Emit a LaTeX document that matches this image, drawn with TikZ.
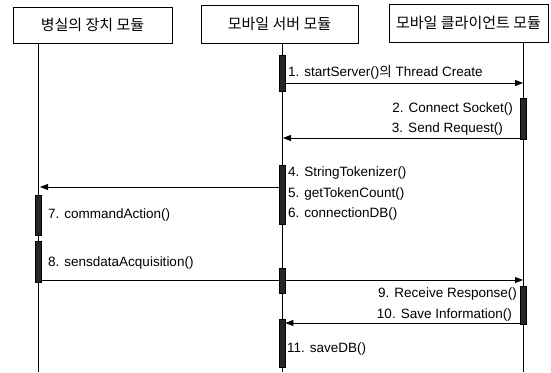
\documentclass[tikz,border=0pt]{standalone}
\usepackage{fontspec}
\setmainfont{Liberation Sans}
\newfontfamily\kr{Noto Sans CJK KR}
\usetikzlibrary{arrows.meta}
\pgfdeclarelayer{background}
\pgfsetlayers{background,main}
\begin{document}
\begin{tikzpicture}[x=1pt,y=-1pt,
  objbox/.style={draw, line width=0.9pt, inner sep=0pt, font=\kr\fontsize{15}{17}\selectfont},
  life/.style={line width=0.9pt},
  actbar/.style={draw=black, line width=0.6pt, fill=black!85, minimum width=6pt, inner sep=0pt},
  msg/.style={line width=0.9pt, -{Triangle[length=8pt,width=6pt]}},
  lbl/.style={font=\fontsize{13.5}{15}\selectfont, inner sep=0pt}]
\useasboundingbox (0,0) rectangle (551,372);

% objects
\node[objbox, minimum width=159pt, minimum height=36pt] (b1) at (92.5,25) {병실의 장치 모듈};
\node[objbox, minimum width=157pt, minimum height=38pt] (b2) at (279.5,24) {모바일 서버 모듈};
\node[objbox, minimum width=159pt, minimum height=38pt] (b3) at (468.5,23) {모바일 클라이언트 모듈};

% lifeline ends
\coordinate (e1) at (38,372);
\coordinate (e2) at (282,372);
\coordinate (e3) at (523,372);

% activation bars
\node[actbar, minimum height=36pt] (a1) at (282,73) {};
\node[actbar, minimum height=41pt] (a2) at (523,118.5) {};
\node[actbar, minimum height=59pt] (a3) at (282,194.5) {};
\node[actbar, minimum height=40pt] (a4) at (38,215) {};
\node[actbar, minimum height=41pt] (a5) at (38,261.5) {};
\node[actbar, minimum height=25pt] (a6) at (282,280.5) {};
\node[actbar, minimum height=38pt] (a7) at (523,305) {};
\node[actbar, minimum height=48pt] (a8) at (282,343) {};

\begin{pgfonlayer}{background}
\fill[white] (0,0) rectangle (551,372);
\draw[life] (b1.south -| e1) -- (e1);
\draw[life] (b2.south -| e2) -- (e2);
\draw[life] (b3.south -| e3) -- (e3);
% messages
\draw[msg] (a1.east |- 0,83) -- (e3 |- 0,83);
\draw[msg] (a2.west |- 0,138) -- (283,138);
\draw[msg] (a3.west |- 0,187) -- (40,187);
\draw[msg] (a5.east |- 0,280) -- (e3 |- 0,280);
\draw[msg] (a7.west |- 0,323) -- (a8.east |- 0,323);
\end{pgfonlayer}

% labels
\node[lbl, anchor=west] (t1) at (288,72) {1. startServer(){\kr 의} Thread Create};
\node[lbl, anchor=east] (t2) at (513,109) {2. Connect Socket()};
\node[lbl, anchor=east] (t3) at (503,129) {3. Send Request()};
\node[lbl, anchor=west] (t4) at (288,173) {4. StringTokenizer()};
\node[lbl, anchor=west] (t5) at (288,194) {5. getTokenCount()};
\node[lbl, anchor=west] (t6) at (288,214) {6. connectionDB()};
\node[lbl, anchor=west] (t7) at (48,215) {7. commandAction()};
\node[lbl, anchor=west] (t8) at (48,263) {8. sensdataAcquisition()};
\node[lbl, anchor=east] (t9) at (517,294) {9. Receive Response()};
\node[lbl, anchor=east] (t10) at (512,315) {10. Save Information()};
\node[lbl, anchor=west] (t11) at (287,349) {11. saveDB()};
\end{tikzpicture}
\end{document}
